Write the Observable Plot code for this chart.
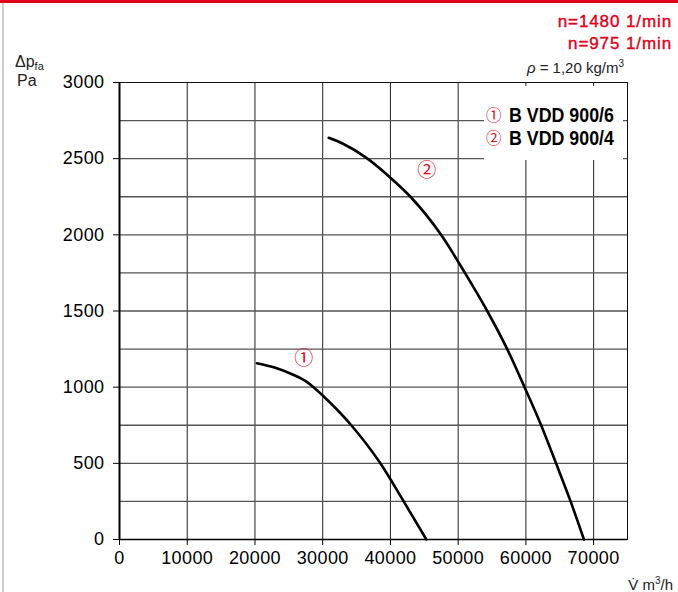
<!DOCTYPE html>
<html>
<head>
<meta charset="utf-8">
<script src="https://cdn.jsdelivr.net/npm/d3@7"></script>
<script src="https://cdn.jsdelivr.net/npm/@observablehq/plot@0.6"></script>
<style>
  html, body { margin: 0; padding: 0; background: #fff; }
  #wrap { position: relative; width: 678px; height: 592px; overflow: hidden; font-family: "Liberation Sans", Arial, sans-serif; }
  #wrap svg { position: absolute; left: 0; top: 0; }
  .abs { position: absolute; white-space: nowrap; line-height: 1; }
  .red { color: #e2001a; -webkit-text-stroke: 0.4px #e2001a; }
  .circ { display: inline-block; line-height: 1; vertical-align: top; margin-top: 2px; font-family: "Noto Sans CJK JP", "DejaVu Sans", sans-serif; color: #e2001a; }
  .cond { display: inline-block; line-height: 1; vertical-align: top; transform: scaleX(0.89); transform-origin: left center; font-weight: bold; font-size: 20px; }
</style>
</head>
<body>
<div id="wrap"></div>
<script>
// ---- data ----
const xTicks = [0, 10000, 20000, 30000, 40000, 50000, 60000, 70000];
const yTicks = [0, 500, 1000, 1500, 2000, 2500, 3000];
const yGrid = [250, 500, 750, 1000, 1250, 1500, 1750, 2000, 2250, 2500, 2750];

// curve 1: B VDD 900/6 (n=975 1/min)
const c1Flow = [20300, 23000, 25300, 27700, 28650, 30000, 34220, 38510, 41960, 45310];
const c1Pres = [1157, 1127, 1088, 1033, 1000, 945, 750, 500, 250, 0];
// curve 2: B VDD 900/4 (n=1480 1/min)
const c2Flow = [30900, 33000, 36300, 40000, 42950, 47480, 51000, 54290, 57240, 59800, 62250, 64450, 66600, 68570];
const c2Pres = [2637, 2598, 2510, 2375, 2250, 2000, 1750, 1500, 1250, 1000, 750, 500, 250, 0];

const labelText = ["\u2460", "\u2461"];
const labelFlow = [27250, 45410];
const labelPres = [1188, 2422];

const legendItems = ["B VDD 900/6", "B VDD 900/4"];
const speeds = ["n=1480 1/min", "n=975 1/min"];

// ---- build ----
const curve1 = c1Flow.map((q, i) => ({q, p: c1Pres[i]}));
const curve2 = c2Flow.map((q, i) => ({q, p: c2Pres[i]}));
const labels = labelText.map((t, i) => ({t, q: labelFlow[i], p: labelPres[i]}));

const RED = "#e2001a";

const chart = Plot.plot({
  width: 678,
  height: 592,
  marginTop: 82,
  marginLeft: 119,
  marginRight: 51,
  marginBottom: 53,
  x: {domain: [0, 75000]},
  y: {domain: [0, 3000]},
  style: {fontFamily: "'Liberation Sans', Arial, sans-serif", fontSize: "18px", letterSpacing: "0.4px", color: "#000", background: "transparent"},
  marks: [
    Plot.gridX(xTicks, {stroke: "#222", strokeOpacity: 1, strokeWidth: 1}),
    Plot.gridY(yGrid, {stroke: "#555", strokeOpacity: 1, strokeWidth: 1.3}),
    Plot.frame({stroke: "#111", strokeWidth: 1}),
    Plot.axisX(xTicks, {tickSize: 6, tickPadding: 6, tickFormat: d => String(d), label: null, fontSize: 18}),
    Plot.axisY(yTicks, {tickSize: 6, tickPadding: 9, tickFormat: d => String(d), label: null, fontSize: 18}),
    Plot.ruleX([0], {stroke: "#000", strokeWidth: 2}),
    Plot.ruleY([0], {stroke: "#000", strokeWidth: 1.6}),
    Plot.line(curve1, {x: "q", y: "p", curve: "monotone-x", stroke: "#000", strokeWidth: 2.6}),
    Plot.line(curve2, {x: "q", y: "p", curve: "monotone-x", stroke: "#000", strokeWidth: 2.6}),
    Plot.text(labels, {x: "q", y: "p", text: "t", fill: RED, fontSize: 19, fontFamily: "'Noto Sans CJK JP', 'DejaVu Sans', sans-serif"})
  ]
});

const wrap = document.getElementById("wrap");
wrap.appendChild(chart);

function add(html, style, cls) {
  const d = document.createElement("div");
  d.className = "abs" + (cls ? " " + cls : "");
  d.innerHTML = html;
  Object.assign(d.style, style);
  wrap.appendChild(d);
  return d;
}

// decorations
add("", {left: "0px", top: "0px", width: "678px", height: "3px", background: RED});
add("", {left: "2px", top: "3px", width: "2px", height: "589px", background: "#cfcfcf"});

// header texts
add(speeds[0], {right: "6px", top: "13px", fontSize: "17px", letterSpacing: "0.9px"}, "red");
add(speeds[1], {right: "6px", top: "35px", fontSize: "17px", letterSpacing: "0.9px"}, "red");
add('<i>\u03c1</i> = 1,20 kg/m<sup style="font-size:10px;vertical-align:6px">3</sup>', {right: "54px", top: "59px", fontSize: "15px", color: "#222"});

// axis titles
add('\u0394p<sub style="font-size:11px;vertical-align:-3px">fa</sub>', {left: "15px", top: "54px", fontSize: "16px", color: "#222"});
add('Pa', {left: "17px", top: "73px", fontSize: "16px", color: "#222"});
add('V\u0307 m<sup style="font-size:10px;vertical-align:6px">3</sup>/h', {right: "5px", top: "576px", fontSize: "15px", color: "#222"});

// legend box
add("", {left: "484px", top: "86px", width: "139px", height: "74px", background: "#fff"});
legendItems.forEach((t, i) => {
  add('<span class="circ" style="font-size:15.5px">' + labelText[i] + '</span><span class="cond" style="margin-left:7px">' + t + '</span>',
      {left: "486px", top: (105 + i * 22.5) + "px", height: "20px"});
});
</script>
</body>
</html>
